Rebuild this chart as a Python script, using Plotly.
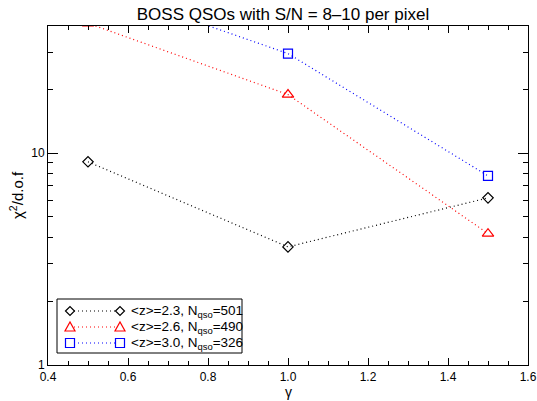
import plotly.graph_objects as go

gamma = [0.5, 1.0, 1.5]
chi2_z23 = [9.10, 3.61, 6.15]
chi2_z26 = [41.0, 18.9, 4.17]
chi2_z30 = [63.0, 29.5, 7.81]

labels = ["&lt;z&gt;=2.3, N<sub>qso</sub>=501",
          "&lt;z&gt;=2.6, N<sub>qso</sub>=490",
          "&lt;z&gt;=3.0, N<sub>qso</sub>=326"]
colors = ["black", "red", "blue"]
symbols = ["diamond-open", "triangle-up-open", "square-open"]
sizes = [8, 10, 9]

x_title = "γ"
y_title = "χ<sup>2</sup>/d.o.f"
title = "BOSS QSOs with S/N = 8\u201310 per pixel"

FONT = "Liberation Sans, Arial, sans-serif"
DOT = "1px,3px"

fig = go.Figure()
for yv, lab, col, sym, sz in zip([chi2_z23, chi2_z26, chi2_z30], labels, colors, symbols, sizes):
    fig.add_trace(go.Scatter(x=gamma, y=yv, name=lab, mode="lines+markers", showlegend=False,
                             line=dict(color=col, width=1.2, dash=DOT),
                             marker=dict(symbol=sym, size=sz, color=col, line=dict(width=1.2))))

# ---- pixel -> paper helpers for the plot area (domain 48..528 x 26..365 px) ----
W, H, L, T = 480.0, 339.0, 48.0, 26.0
def px(x):
    return (x - L) / W
def py(y):
    return (T + H - y) / H

# ---- custom legend (IDL style: marker at both ends of a dotted sample line) ----
glyph_paths = {
    "diamond-open": "M-4.5,0 L0,4.5 L4.5,0 L0,-4.5 Z",
    "triangle-up-open": "M-5,-4 L5,-4 L0,5 Z",
    "square-open": "M-4.5,-4.5 L4.5,-4.5 L4.5,4.5 L-4.5,4.5 Z",
}
shapes = [dict(type="rect", xref="paper", yref="paper",
               x0=px(57), x1=px(242), y0=py(353), y1=py(299),
               line=dict(color="black", width=1), fillcolor="white", layer="above")]
annotations = []
row_y = [311, 327, 343]
for ry, lab, col, sym in zip(row_y, labels, colors, symbols):
    shapes.append(dict(type="line", xref="paper", yref="paper",
                       x0=px(70), x1=px(120), y0=py(ry), y1=py(ry),
                       line=dict(color=col, width=1.2, dash=DOT), layer="above"))
    for gx in (70, 120):
        shapes.append(dict(type="path", xref="paper", yref="paper",
                           xsizemode="pixel", ysizemode="pixel",
                           xanchor=px(gx), yanchor=py(ry),
                           path=glyph_paths[sym], fillcolor="white",
                           line=dict(color=col, width=1.2), layer="above"))
    annotations.append(dict(text=lab, xref="paper", yref="paper", x=px(129), y=py(ry),
                            xanchor="left", yanchor="middle", showarrow=False,
                            font=dict(size=13.5, color="black", family=FONT)))

# axis titles
annotations.append(dict(text=x_title, xref="paper", yref="paper", x=px(288), y=py(392),
                        xanchor="center", yanchor="middle", showarrow=False,
                        font=dict(size=14, color="black", family=FONT)))
annotations.append(dict(text=y_title, xref="paper", yref="paper", x=px(16), y=py(195),
                        xanchor="center", yanchor="middle", showarrow=False, textangle=-90,
                        font=dict(size=15, color="black", family=FONT)))

fig.update_layout(
    width=537, height=401,
    margin=dict(l=48, r=9, t=26, b=36, autoexpand=False),
    paper_bgcolor="white", plot_bgcolor="white",
    font=dict(family=FONT, size=12, color="black"),
    title=dict(text=title, x=0.527, xanchor="center",
               xref="container", y=0.966, yanchor="middle", font=dict(size=17)),
    showlegend=False,
    shapes=shapes,
    annotations=annotations,
)

fig.update_xaxes(
    range=[0.4, 1.6], tick0=0.4, dtick=0.2, tickformat=".1f",
    showgrid=False, zeroline=False, automargin=False,
    showline=True, linecolor="black", linewidth=1, mirror="ticks",
    ticks="inside", ticklen=7, tickcolor="black", ticklabelstandoff=1,
    minor=dict(ticks="inside", ticklen=4, dtick=0.05, tickcolor="black", showgrid=False),
    tickfont=dict(size=12),
)
fig.update_yaxes(
    type="log", range=[0, 1.6],
    tickvals=[1, 10], ticktext=["1", "10"],
    showgrid=False, zeroline=False, automargin=False,
    showline=True, linecolor="black", linewidth=1, mirror="ticks",
    ticks="inside", ticklen=10, tickcolor="black",
    minor=dict(ticks="inside", ticklen=5, tickcolor="black", showgrid=False,
               tickvals=[2, 3, 4, 5, 6, 7, 8, 9, 20, 30, 40]),
    tickfont=dict(size=12),
)

fig.write_html("out.html", config={"displayModeBar": False},
               post_script="document.body.style.margin='0';document.body.style.overflow='hidden';")
